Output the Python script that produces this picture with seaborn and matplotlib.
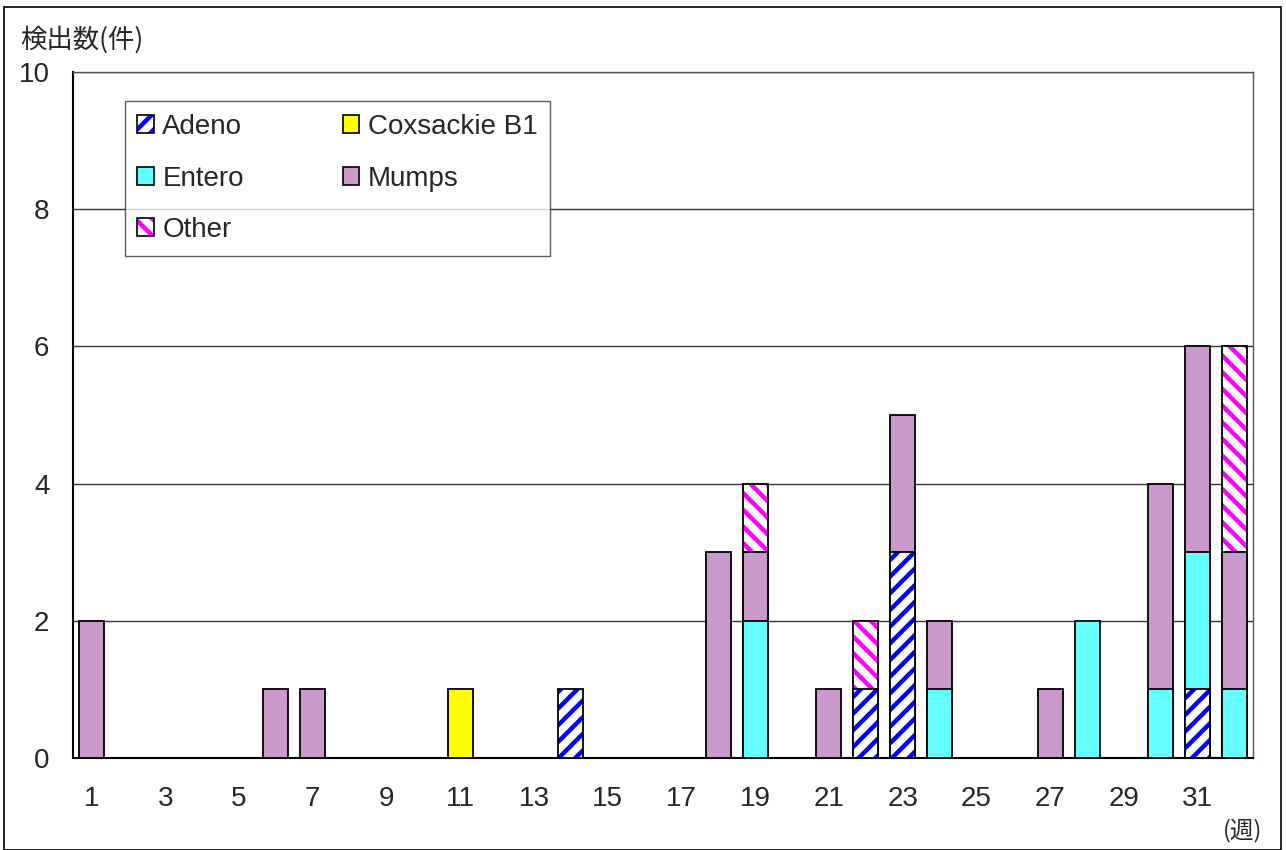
import pandas as pd
import numpy as np
from matplotlib import pyplot as plt
from matplotlib.patches import Patch, Rectangle
import matplotlib.colors as mcolors
import seaborn as sns

# Datos: detecciones por semana (semanas 1-32)
weeks = list(range(1, 33))
adeno =      [0,0,0,0,0,0,0,0,0,0, 0,0,0,1,0,0,0,0,0,0, 0,1,3,0,0,0,0,0,0,0, 1,0]
coxsackie =  [0,0,0,0,0,0,0,0,0,0, 1,0,0,0,0,0,0,0,0,0, 0,0,0,0,0,0,0,0,0,0, 0,0]
entero =     [0,0,0,0,0,0,0,0,0,0, 0,0,0,0,0,0,0,0,2,0, 0,0,0,1,0,0,0,2,0,1, 2,1]
mumps =      [2,0,0,0,0,1,1,0,0,0, 0,0,0,0,0,0,0,3,1,0, 1,0,2,1,0,0,1,0,0,3, 3,2]
other =      [0,0,0,0,0,0,0,0,0,0, 0,0,0,0,0,0,0,0,1,0, 0,1,0,0,0,0,0,0,0,0, 0,3]

series_names = ["Adeno", "Coxsackie B1", "Entero", "Mumps", "Other"]
series_vals = [adeno, coxsackie, entero, mumps, other]

# estilos por serie: (facecolor, hatch, hatch color)
styles = {
    "Adeno": ("white", "//", "#0000FF"),
    "Coxsackie B1": ("#FFFF00", None, None),
    "Entero": ("#66FFFF", None, None),
    "Mumps": ("#CC99CC", None, None),
    "Other": ("white", "\\\\", "#FF00FF"),
}

sns.set_style("white")
plt.rcParams['font.family'] = ['Liberation Sans', 'Noto Sans CJK JP', 'DejaVu Sans']
plt.rcParams['hatch.linewidth'] = 3.2

fig = plt.figure(figsize=(12.86, 8.5), dpi=100)
ax = fig.add_axes([73/1286, 92/850, 1180/1286, 686/850])

order = [str(w) for w in weeks]
cum = np.cumsum(np.array(series_vals), axis=0)

# barras apiladas: se dibuja de arriba hacia abajo con sumas acumuladas
for k in range(len(series_names) - 1, -1, -1):
    name = series_names[k]
    df = pd.DataFrame({"week": order, "total": cum[k], "val": series_vals[k]})
    df = df[df["val"] > 0]
    if df.empty:
        continue
    fc, hatch, hc = styles[name]
    sns.barplot(data=df, x="week", y="total", order=order, ax=ax, color=fc,
                saturation=1, width=0.68, edgecolor="black", linewidth=1.3,
                hatch=hatch, zorder=3)
    if hc is not None:
        for p in ax.containers[-1]:
            p._hatch_color = mcolors.to_rgba(hc)

ax.set_ylim(0, 10)
ax.set_xlim(-0.5, 31.5)
ax.set_yticks(range(0, 11, 2))
ax.yaxis.grid(True, color="#333333", linewidth=1, zorder=0)
ax.set_axisbelow(True)

ax.set_xticks(range(32))
ax.set_xticklabels([str(w) if w % 2 == 1 else "" for w in weeks])
ax.set_xticks(np.arange(0.5, 31.5, 1), minor=True)
ax.tick_params(axis="x", which="major", length=0, labelsize=20, pad=20)
ax.tick_params(axis="x", which="minor", direction="in", length=7, width=1, color="#444444")
ax.tick_params(axis="y", which="major", length=0, labelsize=20, pad=17)
ax.set_xlabel("")
ax.set_ylabel("")

for s in ["left", "bottom"]:
    ax.spines[s].set_color("black")
    ax.spines[s].set_linewidth(1.5)
for s in ["top", "right"]:
    ax.spines[s].set_color("#555555")
    ax.spines[s].set_linewidth(1)

# leyenda (orden por filas: Adeno, Coxsackie / Entero, Mumps / Other)
leg_order = ["Adeno", "Entero", "Other", "Coxsackie B1", "Mumps"]
handles = []
for name in leg_order:
    fc, hatch, hc = styles[name]
    h = Patch(facecolor=fc, edgecolor="black", hatch=hatch, linewidth=1.2)
    if hc is not None:
        h._hatch_color = mcolors.to_rgba(hc)
    handles.append(h)
leg = ax.legend(handles, leg_order, ncol=2, loc="upper left",
                bbox_to_anchor=(0.044, 0.957), fontsize=20, frameon=True,
                fancybox=False, handlelength=0.6, handleheight=0.6,
                handletextpad=0.3, columnspacing=3.55, labelspacing=0.92,
                borderpad=0.45, borderaxespad=0)
leg.get_frame().set_edgecolor("#333333")
leg.get_frame().set_linewidth(1)
leg.set_zorder(5)

fig.text(20/1286, 1 - 40/850, "検出数(件)", fontsize=19, va="center", ha="left",
         family=['Noto Sans CJK JP', 'DejaVu Sans'])
fig.text(1243/1286, 1 - 830/850, "(週)", fontsize=17, va="center", ha="center",
         family=['Noto Sans CJK JP', 'DejaVu Sans'])

# borde exterior del gráfico
fig.patches.append(Rectangle((4/1286, 0), 1277/1286, 843/850, transform=fig.transFigure,
                             fill=False, edgecolor="black", linewidth=1.2))

fig.savefig("out.png", dpi=100)
